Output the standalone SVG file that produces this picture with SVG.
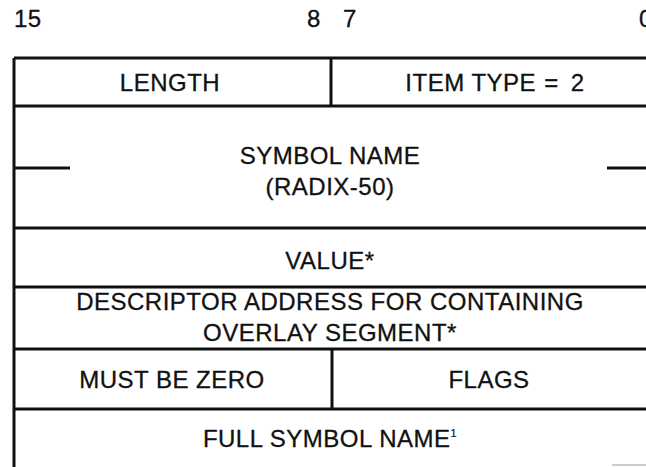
<svg xmlns="http://www.w3.org/2000/svg" width="646" height="467" viewBox="0 0 646 467">
<style>
.t{font-family:"Liberation Sans",Arial,sans-serif;font-size:24px;letter-spacing:0.5px;fill:#111;stroke:#111;stroke-width:0.3}
.c{text-anchor:middle}
.ln{stroke:#111;stroke-width:3;fill:none}
</style>
<rect width="646" height="467" fill="#fff"/>
<g id="bit-labels">
<text class="t" x="14" y="27">15</text>
<text class="t" x="307" y="27">8</text>
<text class="t" x="343" y="27">7</text>
<text class="t" x="639" y="27">0</text>
</g>
<g id="connectors">
<path class="ln" d="M14 58V467"/>
<path class="ln" d="M14 58H646M14 106H646M14 228H646M14 287H646M14 349H646M14 409H646"/>
<path class="ln" d="M331 58V106M332 349V409"/>
<path class="ln" d="M14 168H70M607 168H646"/>
<path d="M612 465H646" stroke="#ccc" stroke-width="2"/>
</g>
<g id="length"><text class="t c" x="170" y="91">LENGTH</text></g>
<g id="item-type"><text class="t c" x="495" y="91">ITEM TYPE <tspan dx="1">=</tspan><tspan dx="12">2</tspan></text></g>
<g id="symbol-name"><text class="t c" x="330" y="164">SYMBOL NAME</text><text class="t c" x="330" y="195">(RADIX-50)</text></g>
<g id="value"><text class="t c" x="330" y="269">VALUE*</text></g>
<g id="descriptor"><text class="t c" x="330" y="310">DESCRIPTOR ADDRESS FOR CONTAINING</text><text class="t c" x="330" y="341">OVERLAY SEGMENT*</text></g>
<g id="must-be-zero"><text class="t c" x="172" y="388">MUST BE ZERO</text></g>
<g id="flags"><text class="t c" x="489" y="388">FLAGS</text></g>
<g id="full-symbol-name"><text class="t c" x="330" y="447">FULL SYMBOL NAME<tspan font-size="11" stroke-width="0.2" dy="-10">1</tspan></text></g>
</svg>
